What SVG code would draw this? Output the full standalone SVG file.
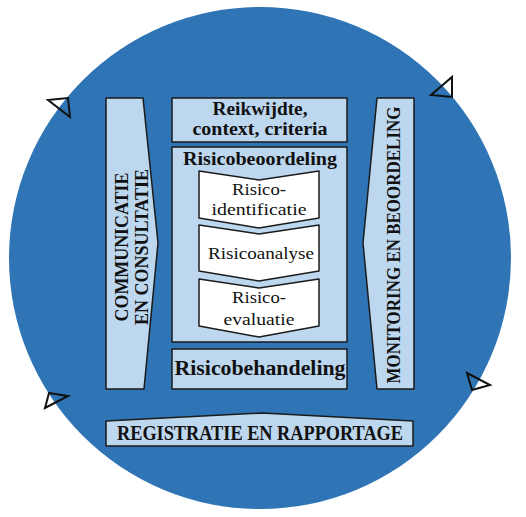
<svg xmlns="http://www.w3.org/2000/svg" width="526" height="517" viewBox="0 0 526 517">
<style>
.box{fill:#BDD7EE;stroke:#1b1b1b;stroke-width:1.5;stroke-linejoin:round}
.chev{fill:#ffffff;stroke:#1b1b1b;stroke-width:1.5;stroke-linejoin:round}
.b{font-family:"Liberation Serif",serif;font-weight:bold;fill:#111;text-anchor:middle}
.r{font-family:"Liberation Serif",serif;fill:#111;text-anchor:middle}
.arr{fill:none;stroke:#111;stroke-width:2;stroke-linejoin:miter}
</style>
<rect x="0" y="0" width="526" height="517" fill="#ffffff"/>
<circle id="cycle" cx="260" cy="258" r="251" fill="#2F75B6"/>
<g id="connectors">
<polygon class="arr" points="48,100 68,98 70,117"/>
<polygon class="arr" points="431,95 452,77 452,97"/>
<polygon class="arr" points="49,393 68,396 45,408"/>
<polygon class="arr" points="467,373 490,385 472,390"/>
</g>
<g id="communicatie">
<polygon class="box" points="106,98 143,98 158,243 144,389 106,389"/>
<text class="b" font-size="19.5" transform="translate(128,247) rotate(-90)" textLength="149" lengthAdjust="spacingAndGlyphs">COMMUNICATIE</text>
<text class="b" font-size="19.5" transform="translate(148,247) rotate(-90)" textLength="156" lengthAdjust="spacingAndGlyphs">EN CONSULTATIE</text>
</g>
<g id="reikwijdte">
<rect class="box" x="172" y="98" width="175" height="44"/>
<text class="b" font-size="18.5" x="260" y="115" textLength="95" lengthAdjust="spacingAndGlyphs">Reikwijdte,</text>
<text class="b" font-size="18.5" x="260" y="135" textLength="135" lengthAdjust="spacingAndGlyphs">context, criteria</text>
</g>
<g id="risicobeoordeling">
<rect class="box" x="172" y="147" width="175" height="195"/>
<text class="b" font-size="18.5" x="260" y="165" textLength="154" lengthAdjust="spacingAndGlyphs">Risicobeoordeling</text>
</g>
<g id="risicoidentificatie">
<polygon class="chev" points="199,171 259,180 319,171 319,218 259,228 199,218"/>
<text class="r" font-size="17.5" x="259" y="195" textLength="54" lengthAdjust="spacingAndGlyphs">Risico-</text>
<text class="r" font-size="17.5" x="259" y="215" textLength="95" lengthAdjust="spacingAndGlyphs">identificatie</text>
</g>
<g id="risicoanalyse">
<polygon class="chev" points="199,225 259,234 319,225 319,271 259,281 199,271"/>
<text class="r" font-size="17.5" x="261" y="259" textLength="106" lengthAdjust="spacingAndGlyphs">Risicoanalyse</text>
</g>
<g id="risicoevaluatie">
<polygon class="chev" points="199,279 259,288 319,279 319,326 259,337 199,326"/>
<text class="r" font-size="17.5" x="259" y="303" textLength="54" lengthAdjust="spacingAndGlyphs">Risico-</text>
<text class="r" font-size="17.5" x="259" y="325" textLength="71" lengthAdjust="spacingAndGlyphs">evaluatie</text>
</g>
<g id="risicobehandeling">
<rect class="box" x="172" y="349" width="175" height="40"/>
<text class="b" font-size="20" x="260" y="375" textLength="171" lengthAdjust="spacingAndGlyphs">Risicobehandeling</text>
</g>
<g id="monitoring">
<polygon class="box" points="377,98 414,98 414,389 377,389 363,243"/>
<text class="b" font-size="19.5" transform="translate(400,245) rotate(-90)" textLength="277" lengthAdjust="spacingAndGlyphs">MONITORING EN BEOORDELING</text>
</g>
<g id="registratie">
<polygon class="box" points="106,421 262,413 413,421 413,446 106,446"/>
<text class="b" font-size="20.5" x="260" y="440" textLength="286" lengthAdjust="spacingAndGlyphs">REGISTRATIE EN RAPPORTAGE</text>
</g>
</svg>
